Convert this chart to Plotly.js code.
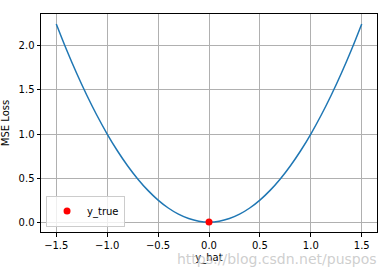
<!DOCTYPE html>
<html>
<head>
<meta charset="utf-8">
<script src="https://cdn.plot.ly/plotly-3.0.1.min.js"></script>
<style>html,body{margin:0;padding:0;background:#fff;}#chart{width:387px;height:270px;}</style>
</head>
<body>
<div id="chart"></div>
<script>
const yHat = [-1.5,-1.4,-1.3,-1.2,-1.1,-1.0,-0.9,-0.8,-0.7,-0.6,-0.5,-0.4,-0.3,-0.2,-0.1,0.0,0.1,0.2,0.3,0.4,0.5,0.6,0.7,0.8,0.9,1.0,1.1,1.2,1.3,1.4,1.5];
const mseLoss = [2.25,1.96,1.69,1.44,1.21,1.0,0.81,0.64,0.49,0.36,0.25,0.16,0.09,0.04,0.01,0.0,0.01,0.04,0.09,0.16,0.25,0.36,0.49,0.64,0.81,1.0,1.21,1.44,1.69,1.96,2.25];
const yTrueX = [0.0];
const yTrueY = [0.0];
const xTicks = [-1.5,-1.0,-0.5,0.0,0.5,1.0,1.5];
const xTickText = ['\u22121.5','\u22121.0','\u22120.5','0.0','0.5','1.0','1.5'];
const yTicks = [0.0,0.5,1.0,1.5,2.0];
const yTickText = ['0.0','0.5','1.0','1.5','2.0'];

const font = {family:'DejaVu Sans', size:10, color:'#000'};
const data = [
  {x:yHat, y:mseLoss, type:'scatter', mode:'lines', line:{color:'#1f77b4', width:1.5, shape:'spline'}, showlegend:false, hoverinfo:'skip'},
  {x:yTrueX, y:yTrueY, type:'scatter', mode:'markers', name:'y_true', marker:{color:'#ff0000', size:7}}
];
const axisCommon = {showline:true, mirror:true, linecolor:'#000', linewidth:1, ticks:'outside', ticklen:3.5, tickwidth:1, tickcolor:'#000', showgrid:true, gridcolor:'#b0b0b0', gridwidth:1, zeroline:false, tickfont:font};
const layout = {
  width:387, height:270,
  margin:{l:41, r:10, t:14, b:38},
  paper_bgcolor:'#fff', plot_bgcolor:'#fff',
  font:font,
  xaxis:Object.assign({}, axisCommon, {range:[-1.65,1.65], tickvals:xTicks, ticktext:xTickText, title:{text:'y_hat', font:font, standoff:4}}),
  yaxis:Object.assign({}, axisCommon, {range:[-0.1125,2.3625], tickvals:yTicks, ticktext:yTickText, title:{text:'MSE Loss', font:font, standoff:8}}),
  legend:{x:0.015, y:0.025, xanchor:'left', yanchor:'bottom', bgcolor:'rgba(255,255,255,0.8)', bordercolor:'#cccccc', borderwidth:1, font:font, itemwidth:30},
  annotations:[{text:'https://blog.csdn.net/puspos', xref:'paper', yref:'paper', x:1.005, y:-0.078, xanchor:'right', yanchor:'top', showarrow:false, font:{family:'DejaVu Sans', size:14, color:'rgba(190,190,190,0.75)'}}]
};
Plotly.newPlot('chart', data, layout, {displayModeBar:false, staticPlot:true});
</script>
</body>
</html>
